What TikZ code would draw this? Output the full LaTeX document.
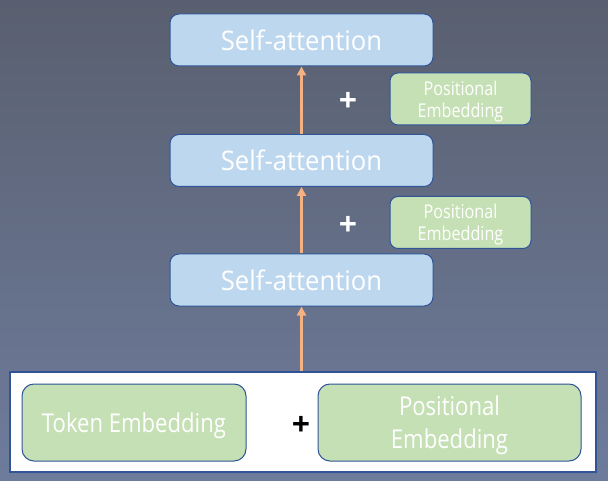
\documentclass[tikz,border=0pt]{standalone}
\usepackage{fontspec}
\setmainfont{Open Sans}
\newfontfamily\uifont[FakeStretch=0.85]{Open Sans}
\newfontfamily\safont[FakeStretch=0.95]{Open Sans}
\usetikzlibrary{arrows.meta}
\definecolor{bgtop}{RGB}{89,95,111}
\definecolor{bgbot}{RGB}{110,124,156}
\definecolor{safill}{RGB}{189,215,238}
\definecolor{saedge}{RGB}{47,85,151}
\definecolor{gfill}{RGB}{197,224,180}
\definecolor{arrowc}{RGB}{244,177,131}
\tikzset{
  sabox/.style={draw=saedge, line width=1pt, fill=safill, rounded corners=9pt,
    minimum width=263pt, minimum height=52pt, text=white, font=\safont\fontsize{27}{30}\selectfont},
  pesmall/.style={draw=saedge, line width=1pt, fill=gfill, rounded corners=8pt,
    minimum width=141pt, minimum height=52pt, text=white, align=center, text depth=0pt,
    font=\uifont\fontsize{19}{22}\selectfont},
  pebig/.style={draw=saedge, line width=1pt, fill=gfill, rounded corners=12pt,
    minimum height=77pt, text=white, align=center, text depth=0pt,
    font=\uifont\fontsize{26}{33}\selectfont},
  flow/.style={draw=arrowc, line width=2.8pt, -{Triangle[length=9pt,width=9pt]}},
  plus/.style={font=\bfseries\fontsize{32}{32}\selectfont}
}
\begin{document}
\begin{tikzpicture}[x=1pt,y=-1pt]
\useasboundingbox (0,0) rectangle (608,481);
\shade[top color=bgtop, bottom color=bgbot] (0,0) rectangle (608,481);
\node[draw=saedge, line width=1.2pt, fill=white, minimum width=586pt, minimum height=100pt, inner sep=0pt] (base) at (303,422) {};
\node[pebig, minimum width=224pt] (tok) at (134,422.5) {Token Embedding};
\node[pebig, minimum width=263pt] (pos) at (449.5,422.5) {Positional\\Embedding};
\node[plus, text=black] (p0) at (301,426) {+};
\node[sabox] (sa3) at (301.5,280) {Self-attention};
\node[sabox] (sa2) at (301.5,160.5) {Self-attention};
\node[sabox] (sa1) at (301.5,40) {Self-attention};
\node[pesmall] (pe2) at (460.5,222.5) {Positional\\Embedding};
\node[pesmall] (pe1) at (460.5,99) {Positional\\Embedding};
\node[plus, text=white] (p2) at (348,226) {+};
\node[plus, text=white] (p1) at (348,102) {+};
\draw[flow] (base.north -| sa3) -- (sa3.south);
\draw[flow] (sa3.north) -- (sa2.south);
\draw[flow] (sa2.north) -- (sa1.south);
\end{tikzpicture}
\end{document}
